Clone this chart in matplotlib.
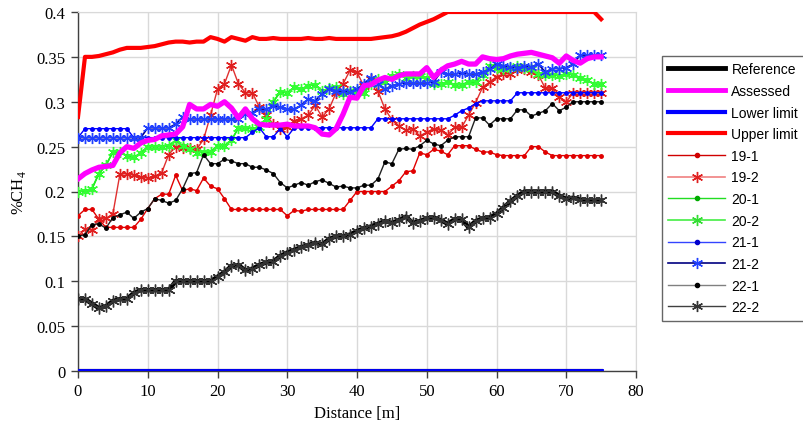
import numpy as np
import matplotlib
matplotlib.use("Agg")
import matplotlib.pyplot as plt
from matplotlib.lines import Line2D

distance = list(range(0, 76))

reference = [0.0] * 76
lower_limit = [0.0] * 76

upper_limit = [0.283, 0.35, 0.35, 0.351, 0.353, 0.355, 0.358, 0.36, 0.36, 0.36,
               0.361, 0.362, 0.364, 0.366, 0.367, 0.367, 0.366, 0.367, 0.367, 0.372,
               0.37, 0.367, 0.372, 0.37, 0.368, 0.372, 0.37, 0.37, 0.371, 0.37,
               0.37, 0.37, 0.37, 0.371, 0.37, 0.37, 0.371, 0.37, 0.37, 0.37,
               0.37, 0.37, 0.37, 0.371, 0.372, 0.373, 0.375, 0.378, 0.382, 0.386,
               0.389, 0.392, 0.396, 0.4, 0.4, 0.4, 0.4, 0.4, 0.4, 0.4,
               0.4, 0.4, 0.4, 0.4, 0.4, 0.4, 0.4, 0.4, 0.4, 0.4,
               0.4, 0.4, 0.4, 0.4, 0.4, 0.392]

assessed = [0.214, 0.22, 0.224, 0.227, 0.228, 0.229, 0.243, 0.25, 0.248, 0.254,
            0.257, 0.258, 0.262, 0.263, 0.264, 0.272, 0.297, 0.292, 0.292, 0.297,
            0.295, 0.3, 0.293, 0.282, 0.292, 0.281, 0.275, 0.274, 0.274, 0.274,
            0.275, 0.273, 0.273, 0.273, 0.271, 0.264, 0.263, 0.27, 0.286, 0.305,
            0.304, 0.318, 0.319, 0.324, 0.327, 0.325, 0.329, 0.331, 0.331, 0.331,
            0.338, 0.327, 0.335, 0.34, 0.342, 0.345, 0.342, 0.342, 0.35, 0.348,
            0.347, 0.348, 0.351, 0.353, 0.354, 0.355, 0.353, 0.351, 0.349, 0.343,
            0.351, 0.346, 0.343, 0.348, 0.35, 0.35]

s19_1 = [0.173, 0.18, 0.18, 0.169, 0.16, 0.16, 0.16, 0.16, 0.16, 0.169,
         0.181, 0.192, 0.197, 0.197, 0.218, 0.201, 0.203, 0.201, 0.215, 0.206,
         0.203, 0.192, 0.18, 0.18, 0.18, 0.18, 0.18, 0.18, 0.18, 0.18,
         0.173, 0.179, 0.178, 0.18, 0.18, 0.18, 0.18, 0.18, 0.18, 0.19,
         0.2, 0.2, 0.2, 0.2, 0.2, 0.206, 0.212, 0.222, 0.223, 0.243,
         0.241, 0.247, 0.245, 0.241, 0.251, 0.251, 0.251, 0.247, 0.244, 0.244,
         0.241, 0.24, 0.24, 0.24, 0.24, 0.25, 0.25, 0.244, 0.24, 0.24,
         0.24, 0.24, 0.24, 0.24, 0.24, 0.24]

s19_2 = [0.15, 0.158, 0.157, 0.169, 0.17, 0.175, 0.219, 0.22, 0.218, 0.216,
         0.215, 0.217, 0.221, 0.241, 0.25, 0.249, 0.248, 0.247, 0.258, 0.285,
         0.314, 0.32, 0.341, 0.32, 0.31, 0.31, 0.294, 0.285, 0.275, 0.27,
         0.272, 0.279, 0.281, 0.285, 0.296, 0.283, 0.292, 0.31, 0.32, 0.335,
         0.333, 0.317, 0.325, 0.312, 0.292, 0.28, 0.273, 0.268, 0.27, 0.262,
         0.266, 0.27, 0.268, 0.263, 0.2715, 0.2715, 0.285, 0.299, 0.316, 0.322,
         0.328, 0.331, 0.331, 0.335, 0.336, 0.333, 0.33, 0.315, 0.315, 0.305,
         0.3, 0.31, 0.31, 0.31, 0.31, 0.31]

s20_1 = [0.2, 0.201, 0.203, 0.22, 0.229, 0.244, 0.244, 0.24, 0.238, 0.243,
         0.25, 0.25, 0.25, 0.251, 0.257, 0.251, 0.247, 0.243, 0.244, 0.244,
         0.251, 0.251, 0.257, 0.271, 0.271, 0.27, 0.272, 0.281, 0.3, 0.311,
         0.31, 0.316, 0.314, 0.318, 0.319, 0.312, 0.315, 0.316, 0.309, 0.312,
         0.312, 0.31, 0.32, 0.325, 0.322, 0.329, 0.331, 0.326, 0.329, 0.329,
         0.327, 0.32, 0.32, 0.322, 0.319, 0.319, 0.322, 0.322, 0.33, 0.34,
         0.338, 0.337, 0.338, 0.34, 0.338, 0.336, 0.331, 0.33, 0.33, 0.329,
         0.331, 0.33, 0.327, 0.324, 0.32, 0.32]

s20_2 = [0.2, 0.201, 0.203, 0.22, 0.229, 0.244, 0.244, 0.24, 0.238, 0.243,
         0.25, 0.25, 0.25, 0.251, 0.257, 0.251, 0.247, 0.243, 0.244, 0.244,
         0.251, 0.251, 0.257, 0.271, 0.271, 0.27, 0.272, 0.281, 0.3, 0.311,
         0.31, 0.316, 0.314, 0.318, 0.319, 0.312, 0.315, 0.316, 0.309, 0.312,
         0.312, 0.31, 0.32, 0.325, 0.322, 0.329, 0.331, 0.326, 0.329, 0.329,
         0.327, 0.32, 0.32, 0.322, 0.319, 0.319, 0.322, 0.322, 0.33, 0.34,
         0.338, 0.337, 0.338, 0.34, 0.338, 0.336, 0.331, 0.33, 0.33, 0.329,
         0.331, 0.33, 0.327, 0.324, 0.32, 0.32]

s21_1 = [0.26, 0.27, 0.27, 0.27, 0.27, 0.27, 0.27, 0.27, 0.26, 0.26,
         0.26, 0.26, 0.26, 0.26, 0.26, 0.26, 0.26, 0.26, 0.26, 0.26,
         0.26, 0.26, 0.26, 0.26, 0.26, 0.266, 0.271, 0.261, 0.261, 0.27,
         0.261, 0.271, 0.271, 0.271, 0.271, 0.271, 0.271, 0.271, 0.271, 0.271,
         0.271, 0.271, 0.271, 0.281, 0.281, 0.281, 0.281, 0.281, 0.281, 0.281,
         0.281, 0.281, 0.281, 0.281, 0.285, 0.29, 0.293, 0.298, 0.301, 0.301,
         0.301, 0.301, 0.301, 0.31, 0.31, 0.31, 0.31, 0.31, 0.31, 0.31,
         0.31, 0.31, 0.31, 0.31, 0.31, 0.31]

s21_2 = [0.26, 0.26, 0.26, 0.26, 0.26, 0.26, 0.26, 0.26, 0.26, 0.26,
         0.271, 0.271, 0.271, 0.271, 0.275, 0.283, 0.281, 0.281, 0.281, 0.281,
         0.281, 0.281, 0.281, 0.281, 0.286, 0.288, 0.292, 0.292, 0.295, 0.294,
         0.292, 0.292, 0.296, 0.303, 0.301, 0.309, 0.314, 0.312, 0.312, 0.311,
         0.314, 0.32, 0.327, 0.32, 0.314, 0.318, 0.32, 0.321, 0.321, 0.321,
         0.321, 0.322, 0.333, 0.331, 0.331, 0.332, 0.331, 0.331, 0.333, 0.336,
         0.342, 0.34, 0.339, 0.338, 0.34, 0.339, 0.342, 0.333, 0.337, 0.337,
         0.338, 0.342, 0.352, 0.352, 0.352, 0.352]

s22_1 = [0.15, 0.152, 0.163, 0.164, 0.159, 0.171, 0.174, 0.177, 0.17, 0.177,
         0.181, 0.192, 0.19, 0.187, 0.19, 0.203, 0.22, 0.221, 0.241, 0.231,
         0.231, 0.236, 0.234, 0.231, 0.231, 0.227, 0.227, 0.224, 0.22, 0.21,
         0.204, 0.207, 0.21, 0.207, 0.211, 0.213, 0.209, 0.205, 0.206, 0.204,
         0.204, 0.207, 0.207, 0.214, 0.233, 0.231, 0.247, 0.248, 0.247, 0.251,
         0.257, 0.253, 0.251, 0.257, 0.261, 0.261, 0.261, 0.282, 0.282, 0.274,
         0.281, 0.281, 0.281, 0.291, 0.291, 0.284, 0.287, 0.29, 0.298, 0.29,
         0.294, 0.3, 0.3, 0.3, 0.3, 0.3]

s22_2 = [0.08, 0.08, 0.075, 0.07, 0.072, 0.078, 0.08, 0.08, 0.087, 0.09,
         0.09, 0.09, 0.09, 0.09, 0.1, 0.1, 0.1, 0.1, 0.1, 0.1,
         0.105, 0.11, 0.117, 0.118, 0.112, 0.114, 0.118, 0.121, 0.122, 0.128,
         0.132, 0.135, 0.138, 0.14, 0.143, 0.141, 0.147, 0.15, 0.15, 0.152,
         0.156, 0.159, 0.161, 0.164, 0.167, 0.165, 0.168, 0.172, 0.165, 0.167,
         0.17, 0.171, 0.168, 0.164, 0.169, 0.169, 0.16, 0.167, 0.17, 0.171,
         0.175, 0.182, 0.189, 0.195, 0.2, 0.2, 0.2, 0.2, 0.2, 0.195,
         0.192, 0.193, 0.191, 0.19, 0.19, 0.19]

x_ticks = [0, 10, 20, 30, 40, 50, 60, 70, 80]
y_ticks = [0, 0.05, 0.1, 0.15, 0.2, 0.25, 0.3, 0.35, 0.4]
y_tick_labels = ["0", "0.05", "0.1", "0.15", "0.2", "0.25", "0.3", "0.35", "0.4"]

serif = "Liberation Serif"

fig = plt.figure(figsize=(8.04, 4.27), dpi=100)
ax = fig.add_axes([78 / 804, 1 - 372 / 427, (636 - 78) / 804, (372 - 13) / 427])

ax.plot(distance, reference, color="black", lw=3.0, zorder=2)
ax.plot(distance, lower_limit, color="#0000FF", lw=3.5, zorder=3)
ax.plot(distance, upper_limit, color="#FF0000", lw=3.0, zorder=3)

ax.plot(distance, s19_1, color="#E00000", lw=1.0, marker="o", ms=2.5,
        mfc="#E00000", mec="#E00000", zorder=4)
ax.plot(distance, s19_2, color="#E03030", lw=1.0, marker=(6, 2, 0), ms=8,
        mec="#E02020", mew=1.0, zorder=4)
ax.plot(distance, s20_1, color="#00DD00", lw=1.0, marker="o", ms=2.5,
        mfc="#00DD00", mec="#00DD00", zorder=4)
ax.plot(distance, s20_2, color="#22EE22", lw=1.2, marker=(6, 2, 0), ms=8,
        mec="#33FF33", mew=1.0, zorder=4)
ax.plot(distance, s21_1, color="#0000FF", lw=1.0, marker="o", ms=2.5,
        mfc="#0000FF", mec="#0000FF", zorder=4)
ax.plot(distance, s21_2, color="#000090", lw=1.2, marker=(6, 2, 0), ms=8,
        mec="#2040FF", mew=1.0, zorder=4)
ax.plot(distance, s22_1, color="#222222", lw=1.0, marker="o", ms=2.5,
        mfc="black", mec="black", zorder=4)
ax.plot(distance, s22_2, color="black", lw=3.2, marker=(6, 2, 0), ms=8.5,
        mec="#333333", mew=1.0, zorder=4)
ax.plot(distance, assessed, color="#FF00FF", lw=3.8, zorder=5,
        solid_joinstyle="round")

ax.set_xlim(0, 80)
ax.set_ylim(0, 0.4)
ax.set_xticks(x_ticks)
ax.set_yticks(y_ticks)
ax.set_yticklabels(y_tick_labels)
ax.grid(True, color="#D9D9D9", lw=1.0, zorder=0)
ax.set_axisbelow(True)
for side in ["top", "right"]:
    ax.spines[side].set_color("#D9D9D9")
for side in ["left", "bottom"]:
    ax.spines[side].set_color("#404040")
    ax.spines[side].set_linewidth(1.0)
ax.tick_params(axis="both", direction="out", length=5, width=1,
               color="#404040", labelsize=12, pad=4)
for lbl in ax.get_xticklabels() + ax.get_yticklabels():
    lbl.set_fontfamily(serif)

ax.set_xlabel("Distance [m]", fontsize=12, family=serif, labelpad=4)
ax.set_ylabel("%CH$_\\mathregular{4}$", fontsize=12, family=serif, labelpad=6)

handles = [
    Line2D([], [], color="black", lw=3.5),
    Line2D([], [], color="#FF00FF", lw=3.5),
    Line2D([], [], color="#0000FF", lw=3.0),
    Line2D([], [], color="#FF0000", lw=3.0),
    Line2D([], [], color="#D00000", lw=1.0, marker="o", ms=3, mfc="#D00000", mec="#D00000"),
    Line2D([], [], color="#F08080", lw=1.2, marker=(6, 2, 0), ms=8, mec="#E02020", mew=1.0),
    Line2D([], [], color="#22DD22", lw=1.0, marker="o", ms=3, mfc="#00AA00", mec="#00AA00"),
    Line2D([], [], color="#44EE44", lw=1.2, marker=(6, 2, 0), ms=8, mec="#33DD33", mew=1.0),
    Line2D([], [], color="#3344FF", lw=1.0, marker="o", ms=3, mfc="#0000CC", mec="#0000CC"),
    Line2D([], [], color="#000080", lw=1.2, marker=(6, 2, 0), ms=8, mec="#2040FF", mew=1.0),
    Line2D([], [], color="#808080", lw=1.0, marker="o", ms=3, mfc="black", mec="black"),
    Line2D([], [], color="#404040", lw=1.0, marker=(6, 2, 0), ms=8, mec="#333333", mew=1.0),
]
labels = ["Reference", "Assessed", "Lower limit", "Upper limit", "19-1", "19-2",
          "20-1", "20-2", "21-1", "21-2", "22-1", "22-2"]
leg = fig.legend(handles, labels, loc="upper left",
                 bbox_to_anchor=(662 / 804, 1 - 57 / 427),
                 frameon=True, fancybox=False, edgecolor="#404040",
                 prop={"family": "Liberation Sans", "size": 10},
                 handlelength=4.1, handletextpad=0.45, labelspacing=0.55,
                 borderpad=0.45, borderaxespad=0.0)
leg.get_frame().set_linewidth(1.0)

fig.savefig("out.png", dpi=100)
